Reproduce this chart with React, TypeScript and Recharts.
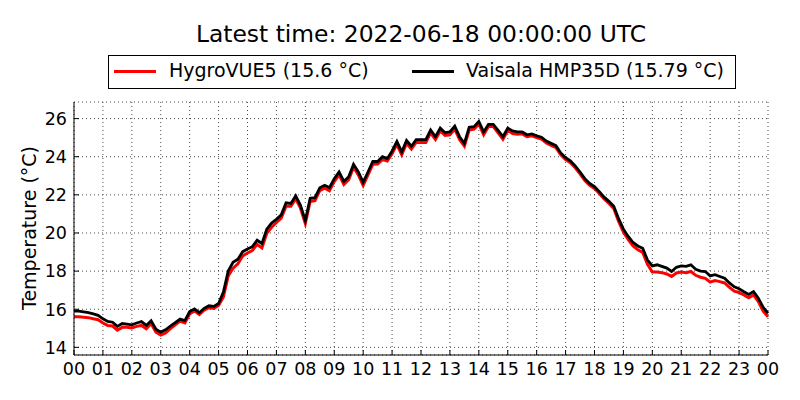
import { CartesianGrid, Line, LineChart, XAxis, YAxis } from "recharts";

// 10-minute samples from 00:00 to 24:00 (145 points)
const hygroVUE5 = [
  15.6, 15.6, 15.58, 15.56, 15.5, 15.45, 15.28, 15.15, 15.12, 14.9, 15.05, 15.05,
  15.02, 15.1, 15.15, 14.98, 15.25, 14.8, 14.65, 14.75, 14.98, 15.18, 15.38, 15.28,
  15.75, 15.92, 15.72, 15.95, 16.08, 16.04, 16.2, 16.65, 17.75, 18.15, 18.38, 18.8,
  18.95, 19.08, 19.4, 19.22, 19.98, 20.3, 20.55, 20.78, 21.4, 21.4, 21.8, 21.3,
  20.5, 21.65, 21.7, 22.22, 22.35, 22.22, 22.7, 23.05, 22.55, 22.8, 23.45, 23.05,
  22.5, 23.05, 23.6, 23.62, 23.85, 23.78, 24.15, 24.65, 24.1, 24.7, 24.4, 24.75,
  24.75, 24.75, 25.25, 24.9, 25.35, 25.12, 25.15, 25.45, 24.9, 24.55, 25.4, 25.45,
  25.72, 25.15, 25.58, 25.58, 25.25, 24.92, 25.38, 25.22, 25.18, 25.2, 25.05, 25.1,
  25.0, 24.92, 24.72, 24.6, 24.48, 24.1, 23.85, 23.68, 23.42, 23.1, 22.75, 22.5,
  22.33, 22.07, 21.78, 21.55, 21.28, 20.6, 20.05, 19.65, 19.32, 19.12, 18.98, 18.35,
  17.95, 17.95, 17.92, 17.85, 17.72, 17.9, 17.95, 17.92, 17.98, 17.78, 17.68, 17.62,
  17.42, 17.5, 17.45, 17.38, 17.15, 16.95, 16.88, 16.75, 16.6, 16.75, 16.4, 15.9,
  15.6,
];

const vaisalaHMP35D = [
  15.9, 15.9, 15.86, 15.82, 15.76, 15.68, 15.5, 15.36, 15.32, 15.1, 15.25, 15.22,
  15.18, 15.28, 15.35, 15.15, 15.4, 14.95, 14.8, 14.92, 15.12, 15.3, 15.48, 15.4,
  15.88, 16.02, 15.82, 16.05, 16.18, 16.15, 16.3, 16.9, 18.0, 18.46, 18.62, 19.02,
  19.16, 19.28, 19.62, 19.45, 20.2, 20.52, 20.72, 20.95, 21.58, 21.55, 21.95, 21.45,
  20.65, 21.82, 21.85, 22.37, 22.5, 22.38, 22.85, 23.2, 22.7, 22.95, 23.6, 23.2,
  22.65, 23.2, 23.75, 23.75, 24.0, 23.9, 24.3, 24.8, 24.25, 24.85, 24.55, 24.9,
  24.9, 24.9, 25.4, 25.05, 25.5, 25.26, 25.3, 25.6, 25.05, 24.7, 25.55, 25.58,
  25.85, 25.3, 25.7, 25.7, 25.38, 25.05, 25.5, 25.35, 25.3, 25.3, 25.15, 25.2,
  25.1, 25.02, 24.82, 24.7, 24.58, 24.2, 23.95, 23.78, 23.52, 23.2, 22.85, 22.6,
  22.43, 22.17, 21.88, 21.66, 21.4, 20.75, 20.2, 19.82, 19.5, 19.32, 19.2, 18.58,
  18.27, 18.33, 18.25, 18.16, 17.98, 18.2, 18.27, 18.25, 18.33, 18.1, 18.0, 17.98,
  17.75, 17.81, 17.72, 17.63, 17.38, 17.18, 17.08, 16.92, 16.78, 16.93, 16.58, 16.1,
  15.79,
];

const hourTicks = [
  0, 1, 2, 3, 4, 5, 6, 7, 8, 9, 10, 11, 12, 13, 14, 15, 16, 17, 18, 19, 20, 21, 22, 23, 24,
];
const tempTicks = [14, 16, 18, 20, 22, 24, 26];

const title = "Latest time: 2022-06-18 00:00:00 UTC";
const seriesNames = ["HygroVUE5 (15.6 °C)", "Vaisala HMP35D (15.79 °C)"];

const data = vaisalaHMP35D.map((v, i) => ({
  h: i / 6,
  hygro: hygroVUE5[i],
  vaisala: v,
}));

const FONT = "'DejaVu Sans', sans-serif";
const TICK_LEN = 5;

const hourLabel = (h: number) => String(h % 24).padStart(2, "0");

const BottomTick = (props: any) => {
  const { x, y, payload } = props;
  return (
    <g>
      <line x1={x} y1={y} x2={x} y2={y - TICK_LEN} stroke="#000" />
      <text x={x} y={y + 20} textAnchor="middle" fontSize={17.5} fill="#000" fontFamily={FONT}>
        {hourLabel(payload.value)}
      </text>
    </g>
  );
};

const TopTick = (props: any) => {
  const { x, y } = props;
  return <line x1={x} y1={y} x2={x} y2={y + TICK_LEN} stroke="#000" />;
};

const LeftTick = (props: any) => {
  const { x, y, payload } = props;
  return (
    <g>
      <line x1={x} y1={y} x2={x + TICK_LEN} y2={y} stroke="#000" />
      <text x={x - 7} y={y} dy="0.36em" textAnchor="end" fontSize={17.5} fill="#000" fontFamily={FONT}>
        {payload.value}
      </text>
    </g>
  );
};

const RightTick = (props: any) => {
  const { x, y } = props;
  return <line x1={x} y1={y} x2={x - TICK_LEN} y2={y} stroke="#000" />;
};

const App = () => {
  return (
    <div
      style={{
        position: "absolute",
        top: 0,
        left: 0,
        width: 800,
        height: 400,
        background: "#fff",
        fontFamily: FONT,
      }}
    >
      <div
        style={{
          position: "absolute",
          top: 20,
          left: 74,
          width: 694,
          textAlign: "center",
          fontSize: 23.4,
          color: "#000",
        }}
      >
        {title}
      </div>
      <div
        style={{
          position: "absolute",
          top: 55,
          left: 108,
          width: 626,
          height: 32,
          border: "1px solid #000",
          fontSize: 19,
          color: "#000",
        }}
      >
        <div style={{ position: "absolute", left: 5, top: 14, width: 42, height: 3, background: "#ff0000" }} />
        <div style={{ position: "absolute", left: 60, top: 3 }}>{seriesNames[0]}</div>
        <div style={{ position: "absolute", left: 303, top: 14, width: 42, height: 3, background: "#000" }} />
        <div style={{ position: "absolute", left: 357, top: 3 }}>{seriesNames[1]}</div>
      </div>
      <div
        style={{
          position: "absolute",
          left: 29,
          top: 228,
          transform: "translate(-50%, -50%) rotate(-90deg)",
          fontSize: 19,
          whiteSpace: "nowrap",
          color: "#000",
        }}
      >
        Temperature (°C)
      </div>
      <LineChart
        width={800}
        height={400}
        data={data}
        margin={{ top: 102, right: 32, left: 0, bottom: 0 }}
        style={{ position: "absolute", top: 0, left: 0 }}
      >
        <CartesianGrid stroke="#333" strokeDasharray="1 3" strokeWidth={0.9} />
        <XAxis
          dataKey="h"
          type="number"
          domain={[0, 24]}
          ticks={hourTicks}
          height={45}
          tickSize={0}
          tickMargin={0}
          tick={<BottomTick />}
          axisLine={{ stroke: "#000" }}
          interval={0}
        />
        <XAxis
          xAxisId="top"
          orientation="top"
          type="number"
          domain={[0, 24]}
          ticks={hourTicks}
          height={0}
          tickSize={0}
          tickMargin={0}
          tick={<TopTick />}
          axisLine={{ stroke: "#000" }}
          interval={0}
        />
        <YAxis
          type="number"
          domain={[13.6, 26.87]}
          allowDataOverflow
          ticks={tempTicks}
          width={74}
          tickSize={0}
          tickMargin={0}
          tick={<LeftTick />}
          axisLine={{ stroke: "#000" }}
          interval={0}
        />
        <YAxis
          yAxisId="right"
          orientation="right"
          type="number"
          domain={[13.6, 26.87]}
          allowDataOverflow
          ticks={tempTicks}
          width={0}
          tickSize={0}
          tickMargin={0}
          tick={<RightTick />}
          axisLine={{ stroke: "#000" }}
          interval={0}
        />
        <Line
          type="linear"
          dataKey="hygro"
          stroke="#ff0000"
          strokeWidth={3}
          dot={false}
          isAnimationActive={false}
        />
        <Line
          type="linear"
          dataKey="vaisala"
          stroke="#000"
          strokeWidth={2.8}
          dot={false}
          isAnimationActive={false}
        />
      </LineChart>
    </div>
  );
};

export default App;
